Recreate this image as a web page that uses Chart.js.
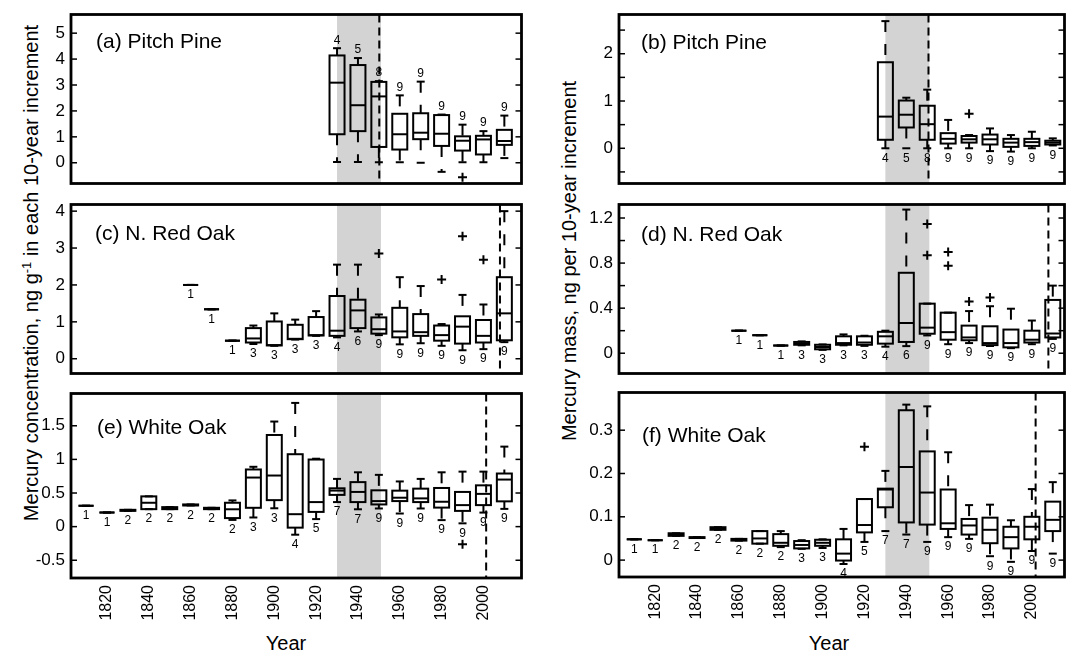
<!DOCTYPE html>
<html lang="en">
<head>
<meta charset="UTF-8">
<title>Mercury in tree rings by decade</title>
<script src="https://cdn.jsdelivr.net/npm/chart.js"></script>
<style>
  body { margin: 0; background: #fff; width: 1079px; height: 656px; position: relative; overflow: hidden;
         font-family: "Liberation Sans", Arial, sans-serif; color: #000; }
  canvas { position: absolute; }
  .title { position: absolute; white-space: nowrap; font-size: 20px; transform: translate(-50%, -50%); }
  .rot { transform: translate(-50%, -50%) rotate(-90deg); }
  sup { font-size: 13px; vertical-align: 7px; line-height: 0; }
</style>
</head>
<body>
<div class="title rot" style="left:31px; top:273px;">Mercury concentration, ng g<sup>-1</sup> in each 10-year increment</div>
<div class="title rot" style="left:569px; top:261px;">Mercury mass, ng per 10-year increment</div>
<div class="title" style="left:286px; top:643px;">Year</div>
<div class="title" style="left:829px; top:643px;">Year</div>
<script>
// decades on the x axis
const YEARS = [1810, 1820, 1830, 1840, 1850, 1860, 1870, 1880, 1890, 1900, 1910,
               1920, 1930, 1940, 1950, 1960, 1970, 1980, 1990, 2000, 2010];
const X_TICKS = [1820, 1840, 1860, 1880, 1900, 1920, 1940, 1960, 1980, 2000];

// (a) Pitch Pine, concentration
const A_N   = [null, null, null, null, null, null, null, null, null, null, null, null, 4, 5, 8, 9, 9, 9, 9, 9, 9];
const A_LO  = [null, null, null, null, null, null, null, null, null, null, null, null, 0.03, 0.03, 0.02, 0.02, 0.00, -0.35, 0.02, 0.02, 0.18];
const A_Q1  = [null, null, null, null, null, null, null, null, null, null, null, null, 1.10, 1.22, 0.61, 0.51, 0.91, 0.65, 0.47, 0.32, 0.69];
const A_MED = [null, null, null, null, null, null, null, null, null, null, null, null, 3.09, 2.22, 2.56, 1.10, 1.16, 1.12, 0.85, 0.90, 0.84];
const A_Q3  = [null, null, null, null, null, null, null, null, null, null, null, null, 4.14, 3.77, 3.12, 1.89, 1.91, 1.84, 1.02, 1.04, 1.27];
const A_HI  = [null, null, null, null, null, null, null, null, null, null, null, null, 4.42, 4.04, 3.15, 2.60, 3.13, 1.86, 1.47, 1.22, 1.82];
const A_OUT_YEARS = [1990];
const A_OUT_VALUES = [-0.56];
const A_YTICKS = [0, 1, 2, 3, 4, 5];
const A_YLABELS = ['0', '1', '2', '3', '4', '5'];

// (b) Pitch Pine, mass
const B_N   = [null, null, null, null, null, null, null, null, null, null, null, null, 4, 5, 8, 9, 9, 9, 9, 9, 9];
const B_LO  = [null, null, null, null, null, null, null, null, null, null, null, null, 0.00, 0.00, 0.00, 0.00, 0.00, -0.06, -0.07, 0.00, 0.06];
const B_Q1  = [null, null, null, null, null, null, null, null, null, null, null, null, 0.18, 0.44, 0.18, 0.10, 0.12, 0.08, 0.03, 0.05, 0.08];
const B_MED = [null, null, null, null, null, null, null, null, null, null, null, null, 0.67, 0.71, 0.51, 0.20, 0.19, 0.19, 0.12, 0.13, 0.12];
const B_Q3  = [null, null, null, null, null, null, null, null, null, null, null, null, 1.82, 1.01, 0.90, 0.32, 0.26, 0.29, 0.20, 0.20, 0.16];
const B_HI  = [null, null, null, null, null, null, null, null, null, null, null, null, 2.69, 1.07, 1.24, 0.60, 0.28, 0.42, 0.28, 0.35, 0.21];
const B_OUT_YEARS = [1970];
const B_OUT_VALUES = [0.73];
const B_YTICKS = [-0.5, 0, 0.5, 1, 1.5, 2, 2.5];
const B_YLABELS = ['', '0', '', '1', '', '2', ''];

// (c) N. Red Oak, concentration
const C_N   = [null, null, null, null, null, 1, 1, 1, 3, 3, 3, 3, 4, 6, 9, 9, 9, 9, 9, 9, 9];
const C_LO  = [null, null, null, null, null, 2.00, 1.34, 0.49, 0.40, 0.35, 0.52, 0.62, 0.58, 0.74, 0.64, 0.39, 0.42, 0.35, 0.23, 0.26, 0.45];
const C_Q1  = [null, null, null, null, null, 2.00, 1.34, 0.49, 0.44, 0.36, 0.53, 0.63, 0.62, 0.83, 0.68, 0.58, 0.62, 0.49, 0.41, 0.44, 0.50];
const C_MED = [null, null, null, null, null, 2.00, 1.34, 0.49, 0.55, 0.37, 0.54, 0.64, 0.76, 1.31, 0.80, 0.74, 0.72, 0.64, 0.87, 0.62, 1.23];
const C_Q3  = [null, null, null, null, null, 2.00, 1.34, 0.49, 0.83, 1.01, 0.92, 1.13, 1.70, 1.60, 1.12, 1.38, 1.21, 0.90, 1.15, 1.05, 2.21];
const C_HI  = [null, null, null, null, null, 2.00, 1.34, 0.49, 0.90, 1.23, 1.06, 1.29, 2.55, 2.55, 1.20, 2.21, 1.97, 0.94, 1.73, 1.47, 4.00];
const C_OUT_YEARS = [1950, 1980, 1990, 2000];
const C_OUT_VALUES = [2.85, 2.15, 3.32, 2.68];
const C_YTICKS = [0, 1, 2, 3, 4];
const C_YLABELS = ['0', '1', '2', '3', '4'];

// (d) N. Red Oak, mass
const D_N   = [null, null, null, null, null, 1, 1, 1, 3, 3, 3, 3, 4, 6, 9, 9, 9, 9, 9, 9, 9];
const D_LO  = [null, null, null, null, null, 0.20, 0.16, 0.068, 0.070, 0.030, 0.070, 0.065, 0.058, 0.063, 0.158, 0.080, 0.090, 0.064, 0.045, 0.080, 0.127];
const D_Q1  = [null, null, null, null, null, 0.20, 0.16, 0.068, 0.075, 0.035, 0.075, 0.075, 0.085, 0.100, 0.173, 0.120, 0.115, 0.072, 0.052, 0.095, 0.140];
const D_MED = [null, null, null, null, null, 0.20, 0.16, 0.068, 0.085, 0.055, 0.090, 0.095, 0.150, 0.268, 0.227, 0.187, 0.140, 0.090, 0.090, 0.120, 0.175];
const D_Q3  = [null, null, null, null, null, 0.20, 0.16, 0.068, 0.100, 0.075, 0.150, 0.150, 0.190, 0.714, 0.440, 0.360, 0.245, 0.239, 0.210, 0.200, 0.473];
const D_HI  = [null, null, null, null, null, 0.20, 0.16, 0.068, 0.105, 0.078, 0.167, 0.155, 0.200, 1.275, 0.440, 0.360, 0.374, 0.417, 0.395, 0.290, 0.600];
const D_OUT_YEARS = [1950, 1950, 1960, 1960, 1970, 1980];
const D_OUT_VALUES = [1.146, 0.870, 0.898, 0.777, 0.460, 0.495];
const D_YTICKS = [0, 0.2, 0.4, 0.6, 0.8, 1.0, 1.2];
const D_YLABELS = ['0', '', '0.4', '', '0.8', '', '1.2'];

// (e) White Oak, concentration
const E_N   = [1, 1, 2, 2, 2, 2, 2, 2, 3, 3, 4, 5, 7, 7, 9, 9, 9, 9, 9, 9, 9];
const E_LO  = [0.31, 0.21, 0.235, 0.26, 0.26, 0.315, 0.26, 0.100, 0.136, 0.273, -0.120, 0.112, 0.365, 0.258, 0.27, 0.195, 0.270, 0.097, 0.049, 0.209, 0.264];
const E_Q1  = [0.31, 0.21, 0.235, 0.26, 0.26, 0.315, 0.26, 0.127, 0.280, 0.394, -0.015, 0.219, 0.472, 0.365, 0.33, 0.380, 0.365, 0.283, 0.234, 0.320, 0.376];
const E_MED = [0.31, 0.21, 0.240, 0.355, 0.275, 0.32, 0.27, 0.258, 0.730, 0.760, 0.185, 0.365, 0.536, 0.516, 0.38, 0.430, 0.420, 0.370, 0.320, 0.487, 0.700];
const E_Q3  = [0.31, 0.21, 0.250, 0.45, 0.29, 0.33, 0.28, 0.355, 0.850, 1.363, 1.077, 0.998, 0.570, 0.662, 0.54, 0.535, 0.565, 0.575, 0.516, 0.614, 0.790];
const E_HI  = [0.31, 0.21, 0.250, 0.45, 0.29, 0.33, 0.28, 0.390, 0.890, 1.563, 1.840, 1.010, 0.710, 0.808, 0.77, 0.672, 0.710, 0.808, 0.818, 0.818, 1.190];
const E_OUT_YEARS = [1990];
const E_OUT_VALUES = [-0.263];
const E_YTICKS = [-0.5, 0, 0.5, 1, 1.5];
const E_YLABELS = ['-0.5', '0', '0.5', '1', '1.5'];

// (f) White Oak, mass
const F_N   = [1, 1, 2, 2, 2, 2, 2, 2, 3, 3, 4, 5, 7, 7, 9, 9, 9, 9, 9, 9, 9];
const F_LO  = [0.048, 0.046, 0.056, 0.051, 0.070, 0.045, 0.038, 0.030, 0.026, 0.028, -0.009, 0.042, 0.067, 0.059, 0.042, 0.053, 0.049, 0.009, -0.004, 0.021, 0.015];
const F_Q1  = [0.048, 0.046, 0.056, 0.051, 0.070, 0.045, 0.038, 0.033, 0.027, 0.033, -0.001, 0.064, 0.122, 0.087, 0.082, 0.072, 0.059, 0.039, 0.027, 0.048, 0.067];
const F_MED = [0.048, 0.046, 0.059, 0.052, 0.073, 0.047, 0.050, 0.040, 0.035, 0.040, 0.015, 0.081, 0.163, 0.215, 0.156, 0.085, 0.080, 0.070, 0.053, 0.077, 0.093];
const F_Q3  = [0.048, 0.046, 0.062, 0.053, 0.076, 0.049, 0.067, 0.060, 0.044, 0.047, 0.048, 0.141, 0.165, 0.346, 0.251, 0.163, 0.095, 0.098, 0.077, 0.100, 0.135];
const F_HI  = [0.048, 0.046, 0.062, 0.053, 0.076, 0.049, 0.067, 0.067, 0.046, 0.048, 0.072, 0.141, 0.206, 0.359, 0.355, 0.249, 0.127, 0.128, 0.092, 0.164, 0.180];
const F_OUT_YEARS = [1920];
const F_OUT_VALUES = [0.262];
const F_YTICKS = [0, 0.1, 0.2, 0.3];
const F_YLABELS = ['0', '0.1', '0.2', '0.3'];

const SHADE_FROM = 1930;
const SHADE_TO = 1951;

Chart.defaults.font.family = '"Liberation Sans", Arial, sans-serif';
Chart.defaults.color = '#000';

const BOX_W = 15;
const CAP_W = 8;
const X_AXIS_H = 60;

const panels = [
  { title: '(a) Pitch Pine', left: 0, top: 8, w: 528, h: 182, axisW: 71, xmin: 1802.8, xmax: 2018.2, ymin: -0.80, ymax: 5.72,
    n: A_N, lo: A_LO, q1: A_Q1, med: A_MED, q3: A_Q3, hi: A_HI, outYears: A_OUT_YEARS, outValues: A_OUT_VALUES,
    yticks: A_YTICKS, ylabels: A_YLABELS, dashAt: 1950.2, labelsAbove: true, tx: 25, ty: 28 },
  { title: '(b) Pitch Pine', left: 540, top: 8, w: 531, h: 182, axisW: 79, xmin: 1802.7, xmax: 2015.6, ymin: -0.745, ymax: 2.83,
    n: B_N, lo: B_LO, q1: B_Q1, med: B_MED, q3: B_Q3, hi: B_HI, outYears: B_OUT_YEARS, outValues: B_OUT_VALUES,
    yticks: B_YTICKS, ylabels: B_YLABELS, dashAt: 1950.6, labelsAbove: false, tx: 22, ty: 29 },
  { title: '(c) N. Red Oak', left: 0, top: 198, w: 528, h: 182, axisW: 71, xmin: 1802.8, xmax: 2018.2, ymin: -0.40, ymax: 4.18,
    n: C_N, lo: C_LO, q1: C_Q1, med: C_MED, q3: C_Q3, hi: C_HI, outYears: C_OUT_YEARS, outValues: C_OUT_VALUES,
    yticks: C_YTICKS, ylabels: C_YLABELS, dashAt: 2007.9, labelsAbove: false, tx: 24, ty: 30 },
  { title: '(d) N. Red Oak', left: 540, top: 198, w: 531, h: 182, axisW: 79, xmin: 1802.7, xmax: 2015.6, ymin: -0.18, ymax: 1.32,
    n: D_N, lo: D_LO, q1: D_Q1, med: D_MED, q3: D_Q3, hi: D_HI, outYears: D_OUT_YEARS, outValues: D_OUT_VALUES,
    yticks: D_YTICKS, ylabels: D_YLABELS, dashAt: 2007.9, labelsAbove: false, tx: 22, ty: 31 },
  { title: '(e) White Oak', left: 0, top: 387, w: 528, h: 251, axisW: 71, xmin: 1802.8, xmax: 2018.2, ymin: -0.764, ymax: 1.98,
    n: E_N, lo: E_LO, q1: E_Q1, med: E_MED, q3: E_Q3, hi: E_HI, outYears: E_OUT_YEARS, outValues: E_OUT_VALUES,
    yticks: E_YTICKS, ylabels: E_YLABELS, dashAt: 2001.3, labelsAbove: false, tx: 26, ty: 35, bottom: true },
  { title: '(f) White Oak', left: 540, top: 386, w: 531, h: 251, axisW: 79, xmin: 1802.7, xmax: 2015.6, ymin: -0.039, ymax: 0.387,
    n: F_N, lo: F_LO, q1: F_Q1, med: F_MED, q3: F_Q3, hi: F_HI, outYears: F_OUT_YEARS, outValues: F_OUT_VALUES,
    yticks: F_YTICKS, ylabels: F_YLABELS, dashAt: 2001.8, labelsAbove: false, tx: 23, ty: 44, bottom: true }
];

function seg(ctx, x1, y1, x2, y2) {
  ctx.beginPath();
  ctx.moveTo(x1, y1);
  ctx.lineTo(x2, y2);
  ctx.stroke();
}

function boxPlugin(p) {
  return {
    id: 'boxes',
    beforeDatasetsDraw(chart) {
      const { ctx, chartArea: a, scales: { x } } = chart;
      ctx.save();
      const s0 = x.getPixelForValue(SHADE_FROM), s1 = x.getPixelForValue(SHADE_TO);
      ctx.fillStyle = '#d3d3d3';
      ctx.fillRect(s0, a.top, s1 - s0, a.bottom - a.top);
      ctx.strokeStyle = '#000';
      ctx.lineWidth = 2;
      ctx.setLineDash([8, 5]);
      const dx = x.getPixelForValue(p.dashAt);
      seg(ctx, dx, a.top, dx, a.bottom);
      ctx.restore();
    },
    afterDatasetsDraw(chart) {
      const { ctx, scales: { x, y } } = chart;
      ctx.save();
      ctx.strokeStyle = '#000';
      ctx.fillStyle = '#000';
      ctx.lineWidth = 2;
      YEARS.forEach((yr, i) => {
        if (p.q1[i] == null) return;
        const cx = x.getPixelForValue(yr);
        const yLo = y.getPixelForValue(p.lo[i]), yQ1 = y.getPixelForValue(p.q1[i]);
        const yMed = y.getPixelForValue(p.med[i]);
        const yQ3 = y.getPixelForValue(p.q3[i]), yHi = y.getPixelForValue(p.hi[i]);
        // whiskers, dashed, drawn top to bottom
        ctx.setLineDash([11, 12]);
        if (yQ3 - yHi > 0.5) seg(ctx, cx, yHi, cx, yQ3);
        if (yLo - yQ1 > 0.5) seg(ctx, cx, yQ1, cx, yLo);
        ctx.setLineDash([]);
        seg(ctx, cx - CAP_W / 2, yHi, cx + CAP_W / 2, yHi);
        seg(ctx, cx - CAP_W / 2, yLo, cx + CAP_W / 2, yLo);
        ctx.strokeRect(cx - BOX_W / 2, yQ3, BOX_W, yQ1 - yQ3);
        seg(ctx, cx - BOX_W / 2, yMed, cx + BOX_W / 2, yMed);
        // sample count
        ctx.font = '12px "Liberation Sans", Arial, sans-serif';
        ctx.textAlign = 'center';
        if (p.labelsAbove) {
          ctx.textBaseline = 'bottom';
          ctx.fillText(String(p.n[i]), cx, yHi - 2);
        } else {
          ctx.textBaseline = 'top';
          ctx.fillText(String(p.n[i]), cx, yLo + 4);
        }
      });
      ctx.restore();
    },
    afterDraw(chart) {
      const { ctx, chartArea: a, scales: { y } } = chart;
      ctx.save();
      ctx.strokeStyle = '#000';
      ctx.lineWidth = 1.5;
      y.ticks.forEach(t => {
        const ty = y.getPixelForValue(t.value);
        seg(ctx, a.left, ty, a.left + 6, ty);
        seg(ctx, a.right - 6, ty, a.right, ty);
      });
      ctx.lineWidth = 2.8;
      ctx.strokeRect(a.left, a.top, a.right - a.left, a.bottom - a.top);
      ctx.fillStyle = '#000';
      ctx.font = '21px "Liberation Sans", Arial, sans-serif';
      ctx.textAlign = 'left';
      ctx.textBaseline = 'middle';
      ctx.fillText(p.title, a.left + p.tx, a.top + p.ty);
      ctx.restore();
    }
  };
}

function makeChart(p) {
  const cv = document.createElement('canvas');
  cv.width = p.w;
  cv.height = p.h;
  cv.style.left = p.left + 'px';
  cv.style.top = p.top + 'px';
  document.body.appendChild(cv);

  const outliers = p.outYears.map((yr, i) => ({ x: yr, y: p.outValues[i] }));

  new Chart(cv, {
    type: 'scatter',
    data: {
      datasets: [{
        data: outliers,
        pointStyle: 'cross',
        pointRadius: 4.5,
        borderWidth: 2,
        borderColor: '#000',
        backgroundColor: '#000'
      }]
    },
    options: {
      responsive: false,
      animation: false,
      events: [],
      layout: { padding: { top: 3, right: 3, bottom: p.bottom ? 0 : 3, left: 0 } },
      plugins: { legend: { display: false }, tooltip: { enabled: false } },
      scales: {
        x: {
          type: 'linear',
          min: p.xmin,
          max: p.xmax,
          display: !!p.bottom,
          grid: { display: false, drawTicks: false },
          border: { display: false },
          ticks: {
            autoSkip: false,
            minRotation: 90,
            maxRotation: 90,
            padding: 7,
            font: { size: 16 },
            color: '#000',
            callback: v => String(v)
          },
          afterBuildTicks: s => { s.ticks = X_TICKS.map(v => ({ value: v })); },
          afterFit: s => { s.height = p.bottom ? X_AXIS_H : 0; s.paddingLeft = 0; s.paddingRight = 0; }
        },
        y: {
          type: 'linear',
          min: p.ymin,
          max: p.ymax,
          grid: { display: false, drawTicks: false },
          border: { display: false },
          ticks: {
            autoSkip: false,
            padding: 6,
            font: { size: 17 },
            color: '#000',
            callback: (v, i) => p.ylabels[i]
          },
          afterBuildTicks: s => { s.ticks = p.yticks.map(v => ({ value: v })); },
          afterFit: s => { s.width = p.axisW; s.paddingTop = 0; s.paddingBottom = 0; }
        }
      }
    },
    plugins: [boxPlugin(p)]
  });
}

panels.forEach(makeChart);
</script>
</body>
</html>
